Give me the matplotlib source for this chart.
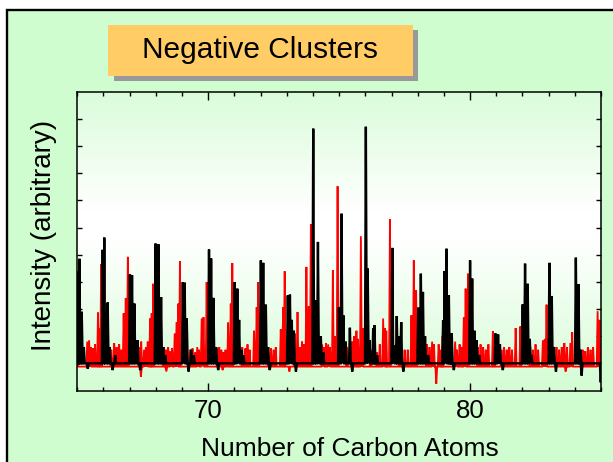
import numpy as np
import matplotlib
matplotlib.use("Agg")
import matplotlib.pyplot as plt
from matplotlib.patches import Rectangle
from matplotlib.colors import LinearSegmentedColormap

plt.rcParams['font.family'] = ['Liberation Sans', 'DejaVu Sans']

# ---------------- data ----------------
# red spectrum: peak positions (carbon-atom units) and intensities
red_peak_x = [65.00, 65.79, 65.85, 65.91, 66.77, 66.85, 66.93, 67.78, 67.84, 67.90,
              68.72, 68.79, 68.86, 68.92, 69.75, 69.82, 69.94, 70.76, 70.86, 70.92,
              71.75, 71.85, 71.91, 72.77, 72.86, 72.92, 73.30, 73.41, 73.75, 73.84,
              73.92, 74.76, 74.85, 74.94, 75.83, 75.90, 76.68, 76.75, 76.80, 76.94,
              77.76, 77.85, 77.94, 78.95, 79.76, 79.83, 79.92, 80.87, 80.93, 81.74,
              81.92, 82.78, 82.85, 82.92, 83.83, 83.90, 84.87, 84.94]
red_peak_y = [3.35, 1.87, 1.30, 3.65, 1.84, 2.40, 3.92, 1.65, 1.85, 2.93,
              1.10, 1.52, 2.20, 3.76, 1.65, 1.70, 2.99, 1.50, 2.20, 3.69,
              1.20, 2.07, 2.99, 1.25, 2.07, 3.39, 1.10, 1.89, 3.55, 2.10,
              5.12, 3.43, 1.00, 6.52, 4.68, 1.30, 1.65, 1.30, 1.20, 5.30,
              1.77, 3.79, 2.69, 1.00, 1.70, 2.75, 3.30, 1.18, 0.60, 1.30,
              1.36, 0.85, 0.90, 2.16, 0.75, 1.15, 1.92, 1.60]
# red small background spikes and dips
red_noise_x = [65.38, 65.45, 65.52, 65.60, 65.68, 66.30, 66.41, 66.50, 66.60, 66.68,
               67.36, 67.43, 67.44, 67.55, 67.62, 67.69, 68.30, 68.38, 68.40, 68.47,
               68.55, 68.62, 69.30, 69.40, 69.50, 69.58, 69.65, 70.35, 70.42, 70.50,
               70.55, 70.58, 70.66, 71.30, 71.42, 71.50, 71.58, 72.30, 72.40, 72.50,
               72.58, 73.10, 73.50, 73.58, 73.66, 74.35, 74.42, 74.50, 74.58, 74.65,
               75.30, 75.50, 75.58, 75.66, 75.72, 76.20, 76.45, 76.55, 77.30, 77.50,
               77.62, 78.35, 78.45, 78.55, 78.62, 78.71, 78.80, 78.90, 79.43, 79.50,
               79.60, 79.70, 80.30, 80.40, 80.50, 80.60, 80.70, 81.20, 81.30, 81.40,
               81.50, 81.60, 82.30, 82.40, 82.50, 82.60, 83.30, 83.40, 83.50, 83.60,
               83.65, 83.70, 84.30, 84.40, 84.50, 84.60, 84.70]
red_noise_y = [0.80, 0.85, 0.60, 0.55, 0.70, 0.50, 0.74, 0.60, 0.70, 0.50,
               0.60, -0.50, 0.80, 0.50, 0.60, 0.80, 0.60, 0.50, -0.30, 0.60,
               0.45, 0.55, 0.50, 0.55, 0.40, 0.60, 0.50, 0.55, 0.60, 0.50,
               -0.25, 0.40, 0.50, 0.60, 0.55, 0.70, 0.50, 0.60, 0.55, 0.50,
               0.60, -0.30, 0.60, 0.80, 0.70, 0.70, 0.60, 0.75, 0.70, 0.60,
               0.60, 0.80, 1.00, 1.20, 0.90, 0.50, 0.40, 0.70, 0.50, 0.50,
               0.50, 0.70, 0.60, 0.80, 0.70, -0.75, 0.70, 0.50, 0.80, 0.50,
               0.70, 0.60, 0.60, 0.70, 0.60, 0.50, 0.70, 0.50, 0.60, 0.50,
               0.60, 0.50, 0.60, 0.50, 0.70, 0.50, 0.60, 0.50, 0.60, 0.75,
               -0.30, 0.60, 0.50, 0.45, 0.60, 0.50, 0.60]
red_baseline = -0.12

# black spectrum
black_peak_x = [65.02, 65.08, 65.17, 65.25, 65.97, 66.03, 66.16, 66.24, 67.01, 67.09,
                67.18, 67.30, 67.99, 68.10, 68.20, 68.28, 69.03, 69.10, 69.18, 69.35,
                70.03, 70.11, 70.20, 70.30, 71.01, 71.11, 71.18, 71.27, 72.01, 72.10,
                72.20, 72.28, 73.04, 73.12, 73.19, 73.27, 74.01, 74.10, 74.19, 74.26,
                74.30, 74.99, 75.09, 75.16, 75.25, 75.41, 76.02, 76.09, 76.16, 76.30,
                76.35, 77.03, 77.10, 77.20, 77.28, 77.37, 78.02, 78.12, 78.20, 78.28,
                78.97, 79.03, 79.10, 79.19, 79.27, 79.30, 80.00, 80.08, 80.17, 80.25,
                80.97, 81.07, 81.14, 82.01, 82.10, 82.20, 82.28, 83.03, 83.12, 83.20,
                84.04, 84.14, 84.22]
black_peak_y = [3.40, 3.85, 1.90, 0.60, 4.18, 4.63, 2.24, 0.60, 3.27, 3.25,
                2.20, 0.85, 4.41, 4.38, 2.44, 0.60, 2.99, 2.97, 1.65, 0.50,
                4.19, 3.86, 2.41, 0.60, 2.99, 2.75, 1.60, 0.50, 3.79, 3.70,
                2.16, 0.60, 2.50, 2.53, 1.60, 1.20, 8.64, 2.32, 4.47, 0.85,
                1.00, 2.07, 5.51, 1.77, 0.80, 1.31, 8.71, 3.49, 0.85, 1.30,
                1.40, 4.25, 0.65, 1.74, 1.00, 1.52, 2.05, 3.30, 2.63, 1.00,
                1.58, 3.40, 4.22, 2.50, 0.90, 1.10, 3.79, 3.12, 1.20, 0.85,
                1.10, 1.06, 0.70, 2.17, 3.67, 2.93, 0.90, 3.70, 2.48, 0.60,
                3.89, 2.91, 0.50]
black_noise_x = [65.40, 66.35, 66.45, 67.40, 68.36, 69.25, 69.45, 70.38, 71.35, 72.35,
                 73.35, 74.40, 75.50, 76.45, 77.45, 78.40, 79.38, 80.35, 81.25, 82.35,
                 83.28, 84.26, 84.99]
black_noise_y = [-0.20, -0.25, 0.30, -0.25, 0.30, -0.30, 0.30, -0.25, 0.30, -0.25,
                 -0.30, 0.40, -0.30, 0.30, -0.30, 0.30, -0.25, 0.30, -0.25, 0.30,
                 -0.30, -0.45, -0.70]
black_baseline = 0.0

x_limits = (65, 85)
y_limits = (-1, 10)
x_major = [70, 80]
x_major_labels = ['70', '80']

title_text = 'Negative Clusters'
x_label = 'Number of Carbon Atoms'
y_label = 'Intensity (arbitrary)'

# ---------------- figure ----------------
W, H = 613, 462
fig = plt.figure(figsize=(W / 100, H / 100), dpi=100, facecolor='white')


def fx(px):
    return px / W


def fy(py):
    return 1 - py / H


# green panel with black frame (extends past right/bottom edges)
fig.patches.append(Rectangle((fx(6.5), -0.1), 1.2, fy(10.5) + 0.1,
                             transform=fig.transFigure, facecolor='#d0fdd0',
                             edgecolor='black', lw=1.7, clip_on=False, zorder=0))

# title box with shadow
fig.patches.append(Rectangle((fx(113.5), fy(80.5)), (418.5 - 113.5) / W, (80.5 - 30) / H,
                             transform=fig.transFigure, facecolor='#999999',
                             edgecolor='none', zorder=1))
fig.patches.append(Rectangle((fx(108), fy(75.5)), (413 - 108) / W, (75.5 - 25) / H,
                             transform=fig.transFigure, facecolor='#ffcc66',
                             edgecolor='none', zorder=2))
fig.text(fx(260.5), fy(50.5), title_text, ha='center', va='center',
         fontsize=21.5, color='black', zorder=3)

ax = fig.add_axes([fx(77.3), fy(390.5), (601 - 77.3) / W, (390.5 - 91.7) / H])
ax.set_zorder(5)

# vertical gradient background of the plot area
cmap = LinearSegmentedColormap.from_list(
    'bg', [(0.0, '#d4fcd4'), (0.5, '#ffffff'), (0.6, '#ffffff'), (1.0, '#dafcda')])
grad = np.linspace(0, 1, 256).reshape(-1, 1)
ax.imshow(grad, extent=[x_limits[0], x_limits[1], y_limits[0], y_limits[1]],
          origin='lower', aspect='auto', cmap=cmap, zorder=0, interpolation='bicubic')


def spectrum(xs, ys, base, w=0.034):
    xs = np.asarray(xs, float)
    ys = np.asarray(ys, float)
    order = np.argsort(xs)
    px, py = [x_limits[0] - 0.2], [base]
    for i in order:
        px += [xs[i] - w, xs[i], xs[i] + w]
        py += [base, ys[i], base]
    px.append(x_limits[1] + 0.2)
    py.append(base)
    return np.array(px), np.array(py)


rx, ry = spectrum(red_peak_x + red_noise_x, red_peak_y + red_noise_y, red_baseline)
bx, by = spectrum(black_peak_x + black_noise_x, black_peak_y + black_noise_y, black_baseline)
ax.plot(rx, ry, color='#ff0000', lw=1.3, zorder=2, solid_joinstyle='miter')
ax.plot(bx, by, color='black', lw=1.7, zorder=3, solid_joinstyle='miter')

ax.set_xlim(*x_limits)
ax.set_ylim(*y_limits)
ax.set_xticks(x_major)
ax.set_xticklabels(x_major_labels)
ax.set_xticks(np.arange(65, 86, 1), minor=True)
ax.set_yticks(np.arange(0, 10, 1))
ax.tick_params(axis='both', which='both', direction='in', top=True, right=True,
               labelleft=False, color='black', width=1.0)
ax.tick_params(axis='x', which='major', length=5.5, labelsize=18.5, pad=6)
ax.tick_params(axis='x', which='minor', length=3)
ax.tick_params(axis='y', which='major', length=3.5)
for s in ax.spines.values():
    s.set_linewidth(1.1)
    s.set_color('black')
    s.set_zorder(5)

fig.text(fx(349.5), fy(456), x_label, ha='center', va='baseline', fontsize=19)
fig.text(fx(44), fy(235), y_label, ha='center', va='center', rotation=90, fontsize=20)

fig.savefig('out.png', dpi=100, facecolor='white')
